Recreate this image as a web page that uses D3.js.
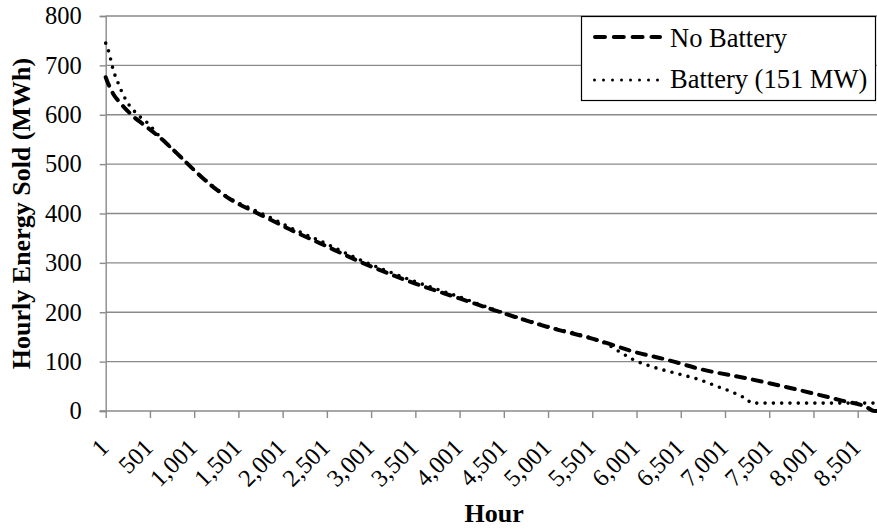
<!DOCTYPE html>
<html>
<head>
<meta charset="utf-8">
<script src="https://cdn.jsdelivr.net/npm/d3@7"></script>
<style>
  body { margin: 0; background: #fff; }
  svg { display: block; }
  svg text { font-family: "Times New Roman", Times, "Liberation Serif", "DejaVu Serif", serif; }
</style>
</head>
<body>
<svg width="877" height="531"></svg>
<script>
// load duration curves
var noBatteryHours = [1, 20, 50, 90, 150, 220, 310, 430, 600, 840, 1000, 1200, 1400, 1630, 1860, 2080, 2420, 2880, 3500, 4000, 4380, 5000, 5510, 5660, 5970, 6340, 6720, 7250, 7850, 8300, 8600, 8690, 8760];
var noBatteryMWh   = [676, 667, 655, 641, 627, 613, 597, 580, 556, 516, 488, 456, 430, 408, 388, 368, 340, 302, 258, 228, 205, 170, 146, 138, 120, 104, 85, 66, 42, 22, 8, 0, 0];

var batteryHours = [1, 15, 40, 60, 80, 100, 125, 155, 193, 238, 306, 389, 483, 600, 840, 1000, 1200, 1400, 1630, 1860, 2080, 2420, 2880, 3500, 4000, 4380, 5000, 5500, 5660, 5800, 5965, 6190, 6455, 6720, 6910, 7100, 7170, 7250, 7300, 8760];
var batteryMWh   = [745, 738, 725, 710, 695, 683, 672, 658, 643, 627, 611, 596, 582, 558, 516, 488, 457, 431, 411, 392, 372, 345, 306, 262, 231, 206, 171, 147, 136, 121, 104, 89, 76, 63, 50, 37, 31, 24, 16, 16];

var xTicks = [1, 501, 1001, 1501, 2001, 2501, 3001, 3501, 4001, 4501, 5001, 5501, 6001, 6501, 7001, 7501, 8001, 8501];
var yTicks = [0, 100, 200, 300, 400, 500, 600, 700, 800];
var seriesNames = ["No Battery", "Battery (151 MW)"];

var svg = d3.select("svg");
var gridColor = "#8a8a8a";

var x = d3.scaleLinear().domain([1, 8501]).range([105.7, 857.7]);
var y = d3.scaleLinear().domain([0, 800]).range([411, 16]);
var right = x(8760);

// gridlines
svg.append("g")
    .selectAll("line")
    .data(yTicks.filter(d => d > 0))
    .enter().append("line")
    .attr("x1", x(1)).attr("x2", right)
    .attr("y1", d => y(d)).attr("y2", d => y(d))
    .attr("stroke", gridColor)
    .attr("stroke-width", 1.4);

// axes
var yAxis = svg.append("g")
    .attr("transform", "translate(" + x(1) + ",0)")
    .call(d3.axisLeft(y).tickValues(yTicks).tickSize(6).tickPadding(18));
yAxis.attr("font-family", null);
yAxis.selectAll("text").style("font-size", "24.5px").attr("fill", "#000");

var xAxis = svg.append("g")
    .attr("transform", "translate(0," + y(0) + ")")
    .call(d3.axisBottom(x).tickValues(xTicks).tickFormat(d3.format(",")).tickSize(7).tickSizeOuter(0));
xAxis.attr("font-family", null);
xAxis.select(".domain").attr("d", "M" + (x(1) - 6) + ",0H" + right);
xAxis.selectAll("text")
    .style("font-size", "24.5px")
    .attr("fill", "#000")
    .style("text-anchor", "end")
    .attr("dx", 0)
    .attr("dy", 0)
    .attr("transform", "translate(-3,31) rotate(-45)");

svg.selectAll(".domain, .tick line").attr("stroke", gridColor).attr("stroke-width", 1.4);

// lines
var line = d3.line()
    .x(d => x(d[0]))
    .y(d => y(d[1]))
    .curve(d3.curveMonotoneX);

var noBat = noBatteryHours.map((h, i) => [h, noBatteryMWh[i]]);
var bat = batteryHours.map((h, i) => [h, batteryMWh[i]]);

svg.append("path")
    .datum(bat)
    .attr("d", line)
    .attr("fill", "none")
    .attr("stroke", "#000")
    .attr("stroke-width", 3.6)
    .attr("stroke-linecap", "round")
    .attr("stroke-dasharray", "0,8.3");

svg.append("path")
    .datum(noBat)
    .attr("d", line)
    .attr("fill", "none")
    .attr("stroke", "#000")
    .attr("stroke-width", 4)
    .attr("stroke-linecap", "round")
    .attr("stroke-dasharray", "9,8");

// axis titles
svg.append("text")
    .attr("transform", "translate(30," + ((y(0) + y(800)) / 2) + ") rotate(-90)")
    .attr("text-anchor", "middle")
    .style("font-size", "26px")
    .style("font-weight", "bold")
    .text("Hourly Energy Sold (MWh)");

svg.append("text")
    .attr("x", (x(1) + right) / 2 + 1)
    .attr("y", 521.5)
    .attr("text-anchor", "middle")
    .style("font-size", "26px")
    .style("font-weight", "bold")
    .text("Hour");

// legend
var legend = svg.append("g");
legend.append("rect")
    .attr("x", 581.5).attr("y", 16.5)
    .attr("width", 294).attr("height", 84)
    .attr("fill", "#fff")
    .attr("stroke", "#000")
    .attr("stroke-width", 1.2);

legend.append("line")
    .attr("x1", 595).attr("x2", 660).attr("y1", 37).attr("y2", 37)
    .attr("stroke", "#000").attr("stroke-width", 4)
    .attr("stroke-linecap", "round").attr("stroke-dasharray", "10,8.8");
legend.append("line")
    .attr("x1", 594.5).attr("x2", 658).attr("y1", 80).attr("y2", 80)
    .attr("stroke", "#000").attr("stroke-width", 3)
    .attr("stroke-linecap", "round").attr("stroke-dasharray", "0,9");

legend.selectAll("text.lab")
    .data(seriesNames)
    .enter().append("text")
    .attr("class", "lab")
    .attr("x", 670)
    .attr("y", (d, i) => 46.5 + i * 41)
    .style("font-size", "26.5px")
    .text(d => d);
</script>
</body>
</html>
